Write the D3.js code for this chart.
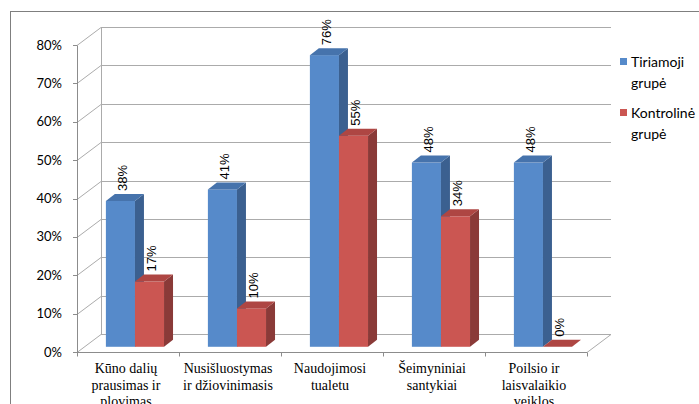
<!DOCTYPE html>
<html>
<head>
<meta charset="utf-8">
<script src="https://cdn.jsdelivr.net/npm/d3@7"></script>
<style>
  html, body { margin: 0; padding: 0; background: #fff; }
  svg { display: block; }
</style>
</head>
<body>
<svg id="chart" width="699" height="404"></svg>
<script>
// Categories (multi-line labels) and values for the two groups
const categories = [
  ["Kūno dalių", "prausimas ir", "plovimas"],
  ["Nusišluostymas", "ir džiovinimasis"],
  ["Naudojimosi", "tualetu"],
  ["Šeimyniniai", "santykiai"],
  ["Poilsio ir", "laisvalaikio", "veiklos"]
];
const seriesNames = ["Tiriamoji grupė", "Kontrolinė grupė"];
const legendLines = [["Tiriamoji", "grupė"], ["Kontrolinė", "grupė"]];
const tiriamoji = [38, 41, 76, 48, 48];
const kontroline = [17, 10, 55, 34, 0];
const yTicks = [0, 10, 20, 30, 40, 50, 60, 70, 80];

const SERIF = '"Liberation Serif"';
const SANS_UI = '"Lato"';
const SANS_LBL = '"Liberation Sans"';

const svg = d3.select("#chart");

// Face colours: front, side, top
const palette = [
  { front: "#568ACA", side: "#3B6090", top: "#4673AC" },
  { front: "#CB5652", side: "#8A3A38", top: "#AE4643" }
];

// Plot geometry
const x0 = 77, x1 = 587;           // front edge of floor
const depthX = 24, depthY = -18;   // wall depth offset
const barPlane = 0.29;             // fraction of depth where bar fronts sit
const barDX = 9, barDY = -7;       // bar depth

const y = d3.scaleLinear().domain([0, 80]).range([352, 45]);
const x = d3.scaleBand().domain(d3.range(categories.length)).range([x0, x1]).paddingInner(0).paddingOuter(0);
const barW = x.bandwidth() * 0.285;

// Outer chart frame
svg.append("rect")
  .attr("x", 10.5).attr("y", 11.5)
  .attr("width", 720).attr("height", 420)
  .attr("fill", "none").attr("stroke", "#7f7f7f").attr("stroke-width", 1);

const grid = svg.append("g").attr("stroke", "#ababab").attr("stroke-width", 1).attr("fill", "none");

// Back wall horizontal gridlines and left wall diagonals
yTicks.forEach(t => {
  const yy = Math.round(y(t)) + 0.5;
  grid.append("line")
    .attr("x1", x0 + depthX).attr("y1", yy + depthY)
    .attr("x2", x1 + depthX).attr("y2", yy + depthY);
  grid.append("line")
    .attr("x1", x0).attr("y1", yy)
    .attr("x2", x0 + depthX).attr("y2", yy + depthY);
});
// back vertical edge
grid.append("line")
  .attr("x1", x0 + depthX + 0.5).attr("y1", Math.round(y(80)) + 0.5 + depthY)
  .attr("x2", x0 + depthX + 0.5).attr("y2", Math.round(y(0)) + 0.5 + depthY);
// floor right diagonal
grid.append("line")
  .attr("x1", x1).attr("y1", Math.round(y(0)) + 0.5)
  .attr("x2", x1 + depthX).attr("y2", Math.round(y(0)) + 0.5 + depthY);

// Front axes
const axisG = svg.append("g").attr("stroke", "#8c8c8c").attr("stroke-width", 1).attr("fill", "none");
axisG.append("line")
  .attr("x1", x0 + 0.5).attr("y1", Math.round(y(80)) + 0.5)
  .attr("x2", x0 + 0.5).attr("y2", Math.round(y(0)) + 0.5);
axisG.append("line")
  .attr("x1", x0).attr("y1", Math.round(y(0)) + 0.5)
  .attr("x2", x1).attr("y2", Math.round(y(0)) + 0.5);
yTicks.forEach(t => {
  const yy = Math.round(y(t)) + 0.5;
  axisG.append("line").attr("x1", x0 - 4).attr("x2", x0).attr("y1", yy).attr("y2", yy);
});
d3.range(categories.length + 1).forEach(i => {
  const xx = Math.round(x0 + i * x.bandwidth()) + 0.5;
  axisG.append("line").attr("x1", xx).attr("x2", xx)
    .attr("y1", Math.round(y(0)) + 0.5).attr("y2", Math.round(y(0)) + 4.5);
});

// Y tick labels
svg.append("g").selectAll("text").data(yTicks).join("text")
  .attr("x", 62).attr("y", d => y(d))
  .attr("dy", "0.35em")
  .attr("text-anchor", "end")
  .style("font-family", SANS_UI)
  .style("font-size", "13px")
  .attr("fill", "#000")
  .text(d => d + "%");

// Category labels (serif, one text element per line)
const catLines = categories.flatMap((lines, i) => lines.map((ln, j) => ({ i, j, ln })));
svg.append("g").selectAll("text").data(catLines).join("text")
  .attr("x", d => x(d.i) + x.bandwidth() / 2 - 2)
  .attr("y", d => 373 + d.j * 16.5)
  .attr("text-anchor", "middle")
  .attr("fill", "#000")
  .style("font-family", SERIF)
  .style("font-size", "14px")
  .text(d => d.ln);

// Bars drawn at the bar plane
const shiftX = depthX * barPlane, shiftY = depthY * barPlane;
const barsG = svg.append("g");
const labelsG = svg.append("g");

function drawBar(left, v, col) {
  const xl = left, xr = left + barW;
  const yb = y(0) + shiftY, yt = y(v) + shiftY;
  const g = barsG.append("g");
  if (v > 0) {
    g.append("rect").attr("x", xl).attr("y", yt).attr("width", barW).attr("height", yb - yt).attr("fill", col.front);
    g.append("path")
      .attr("d", `M${xr},${yt} L${xr + barDX},${yt + barDY} L${xr + barDX},${yb + barDY} L${xr},${yb} Z`)
      .attr("fill", col.side);
  }
  g.append("path")
    .attr("d", `M${xl},${yt} L${xl + barDX},${yt + barDY} L${xr + barDX},${yt + barDY} L${xr},${yt} Z`)
    .attr("fill", col.top);
  return { cx: (xl + xr) / 2, top: yt + barDY };
}

const seriesVals = [tiriamoji, kontroline];
categories.forEach((_, i) => {
  const center = x(i) + x.bandwidth() / 2 + shiftX;
  seriesVals.forEach((vals, s) => {
    const left = center - barW + s * barW;
    const info = drawBar(left, vals[i], palette[s]);
    const lx = info.cx + 2, ly = info.top - 3;
    labelsG.append("text")
      .attr("transform", `translate(${lx},${ly}) rotate(-90)`)
      .attr("dy", "0.35em")
      .attr("text-anchor", "start")
      .attr("fill", "#000")
      .style("font-family", SANS_LBL)
      .style("font-size", "13px")
      .text(vals[i] + "%");
  });
});

// Legend
const legG = svg.append("g");
const legY = [67, 118];
seriesNames.forEach((name, s) => {
  legG.append("rect").attr("x", 620).attr("y", legY[s] - 9).attr("width", 7).attr("height", 7)
    .attr("fill", palette[s].front);
  legendLines[s].forEach((ln, j) => {
    legG.append("text").attr("x", 631).attr("y", legY[s] + j * 21)
      .attr("fill", "#000")
      .style("font-family", SANS_UI)
      .style("font-size", "14px")
      .text(ln);
  });
});
</script>
</body>
</html>
